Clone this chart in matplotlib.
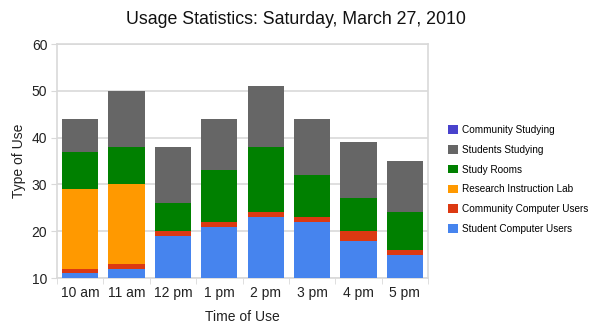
import matplotlib
matplotlib.use("Agg")
import matplotlib.pyplot as plt
import numpy as np
from matplotlib.patches import Patch

plt.rcParams['font.family'] = ['Liberation Sans', 'DejaVu Sans']

times = ["10 am", "11 am", "12 pm", "1 pm", "2 pm", "3 pm", "4 pm", "5 pm"]

student_computer = [11, 12, 19, 21, 23, 22, 18, 15]
community_computer = [1, 1, 1, 1, 1, 1, 2, 1]
research_lab = [17, 17, 0, 0, 0, 0, 0, 0]
study_rooms = [8, 8, 6, 11, 14, 9, 7, 8]
students_studying = [7, 12, 12, 11, 13, 12, 12, 11]
community_studying = [0, 0, 0, 0, 0, 0, 0, 0]

series = [
    ("Student Computer Users", student_computer, "#4684EE"),
    ("Community Computer Users", community_computer, "#DC3912"),
    ("Research Instruction Lab", research_lab, "#FF9900"),
    ("Study Rooms", study_rooms, "#008000"),
    ("Students Studying", students_studying, "#666666"),
    ("Community Studying", community_studying, "#4942CC"),
]

W, H = 591, 332
fig = plt.figure(figsize=(W / 100, H / 100), dpi=100)
ax = fig.add_axes([57 / W, (H - 278) / H, (428 - 57) / W, (278 - 44) / H])

x = np.arange(len(times))
bottom = np.zeros(len(times))
handles = []
for name, vals, color in series:
    vals = np.array(vals, dtype=float)
    ax.bar(x, vals, bottom=bottom, width=0.78, color=color, zorder=3, linewidth=0)
    bottom += vals
    handles.append(Patch(facecolor=color, edgecolor='none', label=name))

ax.set_xlim(-0.5, len(times) - 0.5)
ax.set_ylim(10, 60)
ax.set_yticks([10, 20, 30, 40, 50, 60])
ax.set_xticks(x)
ax.set_xticklabels(times)
ax.set_xticks(np.arange(len(times) + 1) - 0.5, minor=True)

grid_c = "#d9d9d9"
ax.yaxis.grid(True, color=grid_c, linewidth=1.2, zorder=0)
for s in ax.spines.values():
    s.set_color(grid_c)
    s.set_linewidth(1.2)

ax.tick_params(axis='y', length=4, color=grid_c, labelsize=10, pad=3, labelcolor='#222222')
ax.tick_params(axis='x', which='major', length=0, labelsize=10, pad=6, labelcolor='#222222')
ax.tick_params(axis='x', which='minor', length=4, color=grid_c)

ax.set_xlabel("Time of Use", fontsize=10, labelpad=7, color='#222222')
ax.set_ylabel("Type of Use", fontsize=10, labelpad=4, color='#222222')

fig.text(296 / W, 1 - 20 / H, "Usage Statistics: Saturday, March 27, 2010",
         ha='center', va='center', fontsize=12.8, color='#111111')

leg = ax.legend(handles=handles[::-1], loc='upper left',
                bbox_to_anchor=(448 / W, 1 - 125 / H), bbox_transform=fig.transFigure,
                frameon=False, fontsize=7.2, handlelength=0.95, handleheight=0.95,
                handletextpad=0.45, labelspacing=0.98, borderpad=0, borderaxespad=0)

fig.savefig("out.png", dpi=100)
